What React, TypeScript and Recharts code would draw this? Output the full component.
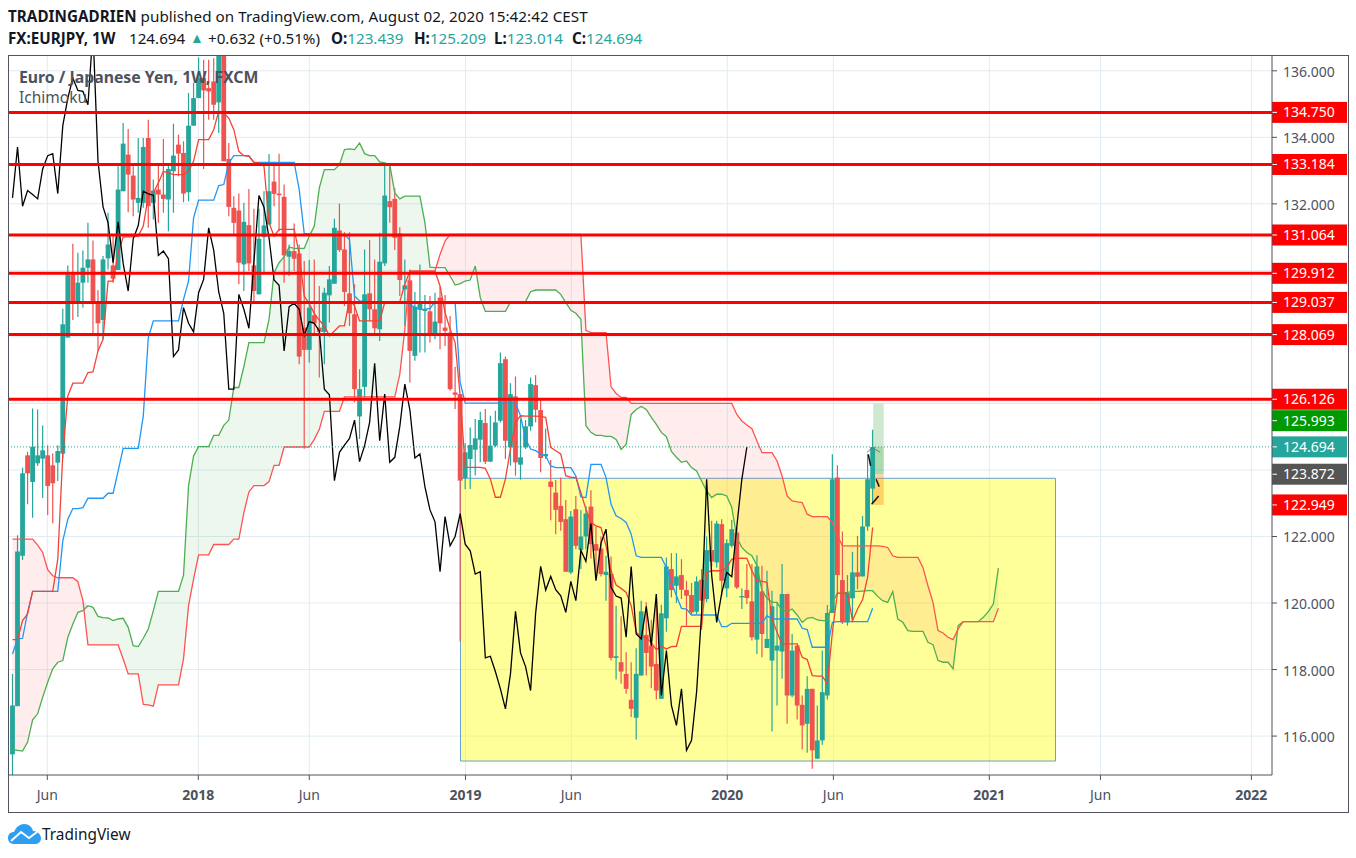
import React from 'react';
import { ComposedChart, Bar, Line, Area, XAxis, YAxis, CartesianGrid, ReferenceLine, ReferenceArea } from 'recharts';

const FONT = '"Noto Sans", "Open Sans", sans-serif';
const UP = '#26a69a';
const DOWN = '#ef5350';
const TEXT = '#4c525e';

// weekly candles, bar index = position in the arrays
const opens = [
  115.45,116.9,121.42,124.44,123.64,124.2,124.34,124.44,124.14,124.22,
  124.49,127.98,129.88,129.05,129.63,130.08,130.33,129.08,128.51,130.36,
  130.15,130.01,132.38,133.48,132.85,132.03,132.03,133.98,132.03,132.43,
  132.28,132.13,132.98,133.78,133.53,132.35,134.35,135.18,135.78,135.48,
  135.68,135.05,137.2,133.35,131.88,131.8,130.18,131.36,130.15,129.28,
  131.0,131.38,132.67,132.31,132.21,130.41,130.58,130.51,128.28,127.61,
  128.65,128.28,128.15,129.25,129.6,131.2,130.63,129.31,128.68,125.61,
  126.5,129.31,128.83,128.23,130.21,132.08,132.15,131.11,129.43,129.7,
  127.43,128.83,128.78,128.77,128.03,129.18,128.28,128.13,126.33,126.28,
  123.75,124.33,124.61,124.91,125.41,124.25,124.73,125.48,127.33,124.68,
  126.21,124.16,124.68,125.31,126.55,125.8,124.41,123.65,123.32,122.92,
  122.52,120.92,122.82,121.6,122.0,122.9,121.77,121.64,120.84,120.87,
  118.35,118.22,117.87,117.09,116.55,117.82,119.04,118.72,118.17,117.12,
  119.54,121.02,120.52,120.84,120.39,120.24,119.74,120.7,120.12,121.59,
  121.22,122.37,120.44,121.72,122.12,120.17,120.39,120.05,118.9,120.35,
  118.65,118.27,118.57,118.54,120.27,117.22,118.72,116.94,116.37,117.42,
  115.32,115.87,117.22,119.7,123.77,120.69,119.42,120.14,120.92,120.8,122.3,123.44,
];
const highs = [
  117.87,122.04,124.07,124.55,125.85,125.82,125.34,124.74,124.5,124.74,
  128.85,130.15,130.8,130.53,130.6,131.43,130.9,129.4,130.43,131.73,
  131.08,133.13,134.43,134.25,133.13,133.98,133.98,134.53,132.73,133.2,
  133.95,133.23,134.41,134.08,133.88,135.33,135.63,136.4,136.33,136.33,
  136.38,137.5,137.4,133.83,132.23,132.31,132.03,132.45,131.85,131.85,
  132.38,133.5,133.23,133.51,132.58,130.78,131.41,130.78,130.28,130.31,
  130.33,129.53,129.48,130.13,131.55,132.01,131.15,131.15,129.58,127.03,
  130.63,130.91,130.33,131.13,133.18,133.13,132.48,131.3,130.33,130.03,
  129.35,130.18,129.26,129.23,129.33,129.5,129.26,128.63,127.1,126.28,
  124.8,125.28,125.53,125.75,125.83,125.63,125.78,127.53,127.41,126.61,
  126.81,125.53,125.5,126.78,126.85,126.11,125.25,124.3,123.7,123.77,
  123.1,122.77,123.22,122.8,122.92,123.39,122.3,122.0,121.42,121.4,
  119.92,119.6,118.52,118.22,118.64,120.07,120.02,119.5,120.27,119.95,
  121.37,121.5,121.5,121.32,120.67,120.6,120.8,121.02,122.0,122.47,
  122.47,122.52,121.92,122.5,122.27,120.44,121.17,121.17,121.44,121.12,
  120.97,120.37,120.02,121.17,120.27,119.07,118.72,117.22,117.8,117.42,
  116.92,118.57,119.94,124.47,124.14,122.15,120.84,121.54,122.02,122.62,124.47,125.21,
];
const lows = [
  114.7,116.9,121.29,122.97,122.56,124.12,123.16,122.65,122.4,123.67,
  124.37,127.98,128.51,128.6,128.88,129.63,128.05,127.58,127.93,130.03,
  129.63,130.01,132.38,131.75,131.63,131.73,131.88,131.28,131.53,131.43,
  131.73,131.18,131.73,132.83,132.05,132.08,134.35,135.18,133.05,134.53,
  134.53,134.13,133.28,131.63,131.03,129.58,129.38,129.98,129.0,129.28,
  129.95,131.38,131.93,131.18,129.63,129.83,129.98,127.18,124.64,127.23,
  128.03,126.78,127.18,128.43,129.6,130.55,128.93,128.33,126.03,124.93,
  126.13,128.48,128.03,127.88,130.13,131.43,130.61,129.23,128.33,126.63,
  127.28,127.53,127.53,127.83,127.93,127.63,127.73,126.38,125.83,118.84,
  123.42,123.43,123.83,124.23,124.18,124.25,124.68,125.43,124.33,124.13,
  123.83,123.71,124.63,125.18,125.43,123.93,124.33,122.49,122.07,122.17,
  120.94,120.87,121.62,121.02,121.62,121.34,120.9,120.8,120.07,118.27,
  117.7,117.57,117.27,116.57,115.9,117.82,117.82,117.44,117.1,117.12,
  119.14,120.17,120.0,120.12,119.32,119.67,119.67,119.2,120.02,121.1,
  121.07,120.22,120.17,121.67,120.42,119.82,119.97,118.87,118.47,118.37,
  118.65,116.14,116.92,117.72,116.37,117.17,116.5,115.6,115.5,115.02,
  115.32,115.74,117.1,119.7,120.27,119.37,119.32,119.42,120.42,120.8,122.17,123.01,
];
const closes = [
  116.92,121.55,123.9,123.9,124.7,124.44,124.59,123.52,123.6,124.57,
  128.38,129.88,129.05,129.63,130.08,130.33,129.08,128.41,130.33,130.78,
  129.75,132.43,133.81,132.88,132.13,132.18,133.71,131.93,132.4,132.28,
  132.15,133.05,133.45,133.51,132.31,134.35,135.18,135.78,135.41,135.38,
  134.98,137.2,133.28,131.91,131.43,130.23,131.46,130.21,129.38,130.95,
  131.35,132.38,132.3,132.26,130.45,130.58,130.35,127.41,127.61,128.88,
  128.41,128.15,129.33,129.73,131.28,130.61,129.35,128.71,126.43,126.43,
  129.28,128.83,128.26,130.26,132.25,131.9,130.98,129.71,129.55,127.58,
  128.91,129.01,128.83,128.05,128.46,128.41,128.18,126.43,126.26,123.68,
  124.53,124.75,124.95,125.5,124.25,124.73,125.43,127.21,124.88,126.28,
  124.23,124.38,125.31,126.58,125.81,124.36,124.48,123.49,122.8,122.44,
  120.94,122.6,121.72,122.0,122.69,121.77,121.57,120.87,120.94,118.35,
  118.4,117.94,117.42,116.82,117.87,119.75,118.5,118.09,117.37,119.69,
  121.1,120.39,120.8,120.4,120.22,119.72,120.65,120.07,121.59,121.25,
  122.39,120.67,121.8,122.22,120.47,120.21,120.15,118.97,121.1,119.07,
  118.92,119.9,118.72,120.27,117.22,118.57,116.92,116.32,117.42,115.57,
  115.87,117.32,119.7,123.72,120.84,119.42,120.3,120.92,120.79,122.3,123.72,124.69,
];

// ichimoku lines
const conversion = [
  118.9,118.9,119.47,119.67,120.35,120.35,120.35,120.35,120.35,121.32,
  124.47,126.23,126.61,126.61,126.61,126.93,126.95,127.58,127.93,129.68,
  129.68,130.53,131.0,131.01,131.01,131.03,131.33,132.23,132.33,132.63,
  132.98,132.93,132.88,132.88,132.88,132.98,133.28,133.93,133.93,133.93,
  134.23,134.78,134.73,134.58,134.23,133.58,133.45,133.43,133.25,133.23,
  133.13,131.43,131.03,131.23,131.23,131.23,131.23,130.5,129.23,129.0,
  128.7,128.5,128.33,128.03,128.18,128.33,128.33,129.13,128.93,128.48,
  128.48,128.48,128.48,128.48,129.03,129.06,129.06,129.06,129.58,129.98,
  129.98,129.98,129.98,129.98,129.98,129.53,128.73,128.23,127.83,126.23,
  124.08,124.08,124.08,124.08,124.05,123.73,123.18,123.18,123.73,124.63,
  125.43,125.63,125.62,125.62,125.62,125.61,125.58,124.68,124.58,124.48,
  123.83,123.78,123.78,123.32,122.82,122.42,122.32,122.27,121.72,120.97,
  120.54,120.44,120.32,119.92,119.12,118.97,118.97,118.8,118.6,118.7,
  118.62,118.69,118.7,119.3,119.3,119.3,119.3,119.3,120.92,120.97,
  120.97,120.97,121.07,121.32,121.34,121.35,121.34,120.97,120.67,120.65,
  120.62,119.52,119.12,118.77,118.77,118.77,118.77,118.37,118.3,117.82,
  117.8,117.8,117.57,119.12,120.3,120.3,120.3,119.47,119.82,120.1,120.77,122.27,
];
const base = [
  118.47,118.92,118.94,119.72,120.35,120.35,120.35,120.35,120.35,120.35,
  121.87,122.52,122.84,122.84,122.87,123.15,123.15,123.15,123.15,123.3,
  123.3,123.97,124.65,124.65,124.65,124.65,125.62,127.98,128.48,128.48,
  128.48,128.48,128.48,128.48,129.13,129.68,131.58,132.11,132.11,132.11,
  132.11,132.55,132.58,133.23,133.45,133.45,133.45,133.45,133.25,133.25,
  133.25,133.25,133.25,133.25,133.25,133.25,133.25,132.43,131.11,131.1,
  131.08,131.08,131.08,131.08,131.08,131.08,131.08,130.93,129.23,129.08,
  129.06,129.06,129.06,129.06,129.06,129.06,129.06,129.06,129.06,128.98,
  128.88,128.83,128.83,128.86,129.05,129.06,129.06,129.06,129.03,126.63,
  126.01,126.01,126.01,126.01,126.01,126.01,126.01,126.01,126.01,126.01,
  126.01,125.63,124.93,124.63,124.58,124.48,124.43,124.12,124.07,124.07,
  124.07,124.07,123.82,123.19,123.17,124.17,124.17,124.17,123.77,122.97,
  122.62,122.54,122.42,122.07,121.42,121.37,121.37,121.37,121.37,121.37,
  121.07,120.62,120.22,119.84,119.82,119.64,119.64,119.64,119.64,119.64,
  119.64,119.29,119.29,119.39,119.39,119.39,119.39,119.39,119.39,119.39,
  119.62,119.52,119.52,119.52,119.52,119.52,119.52,119.24,119.2,118.67,
  118.67,118.67,118.67,119.42,119.44,119.44,119.44,119.44,119.44,119.44,119.44,119.84,
];
const leadA = [
  115.59,115.57,115.55,115.82,116.49,116.67,117.17,117.62,118.02,118.22,
  118.27,118.97,119.37,119.72,119.77,119.92,119.87,119.6,119.56,119.55,
  119.47,119.52,119.54,119.27,118.72,118.69,118.94,119.22,119.77,120.35,
  120.35,120.35,120.35,120.35,120.84,123.52,124.42,124.7,124.7,124.7,
  125.04,125.04,125.34,125.5,126.48,126.48,127.11,127.83,127.83,127.83,
  127.83,128.53,129.93,130.23,130.41,130.7,130.66,130.66,130.66,131.03,
  131.33,132.48,133.03,133.03,133.03,133.18,133.63,133.65,133.63,133.83,
  133.51,133.45,133.45,133.26,133.23,133.18,132.33,132.15,132.23,132.23,
  132.23,132.23,131.43,130.1,130.08,130.08,130.08,129.83,129.56,129.6,
  129.68,129.71,130.13,129.18,128.77,128.77,128.77,128.77,128.77,129.05,
  129.06,129.06,129.06,129.36,129.41,129.41,129.41,129.41,129.41,129.28,
  129.03,128.8,128.71,128.53,125.33,125.13,125.04,125.04,125.01,125.01,
  124.92,124.62,124.77,125.67,125.82,125.91,125.82,125.58,125.37,125.13,
  125.0,124.56,124.38,124.23,124.27,124.07,123.97,123.67,123.37,123.17,
  123.27,123.27,123.22,122.87,121.97,121.67,121.52,121.42,121.12,120.37,
  120.14,120.02,120.02,119.77,119.74,119.82,119.64,119.42,119.54,119.57,
  119.49,119.47,119.47,120.02,120.29,120.3,120.32,120.34,120.35,120.36,
  120.37,120.37,120.2,120.07,120.02,120.34,119.52,119.42,119.17,119.15,
  119.15,119.15,118.82,118.75,118.27,118.22,118.22,118.02,119.32,119.44,
  119.44,119.44,119.44,119.57,119.74,119.97,121.05,
];
const leadB = [
  121.92,121.92,121.92,121.92,121.92,121.74,121.52,121.0,120.82,120.76,
  120.76,120.76,120.76,120.64,120.07,118.74,118.74,118.74,118.74,118.74,
  118.74,118.74,118.32,117.87,117.87,117.87,116.95,116.94,116.9,117.54,
  117.54,117.54,117.54,117.54,118.32,119.92,120.72,121.45,121.45,121.45,
  121.76,121.76,121.76,121.76,121.92,121.92,122.72,123.34,123.53,123.53,
  123.53,123.65,124.14,124.14,124.69,124.69,124.69,124.69,124.69,124.69,
  124.92,125.22,125.76,125.76,125.76,125.76,126.2,126.2,126.2,126.2,
  126.2,126.2,126.2,126.2,126.2,126.2,126.2,126.88,128.23,129.98,
  129.98,129.98,129.98,129.98,129.98,130.48,130.88,131.08,131.08,131.08,
  131.08,131.08,131.08,131.08,131.08,131.08,131.08,131.08,131.08,131.08,
  131.08,131.08,131.08,131.08,131.08,131.08,131.08,131.08,131.08,131.08,
  131.08,131.08,131.08,131.08,128.2,128.13,128.13,128.13,128.13,126.5,
  126.3,126.18,126.18,126.0,126.0,126.0,126.0,126.0,126.0,126.0,
  126.0,126.0,126.0,126.0,126.0,126.0,126.0,126.0,126.0,126.0,
  126.0,126.0,126.0,126.0,125.67,125.47,125.35,125.24,124.87,124.52,
  124.52,124.52,124.27,123.82,123.22,123.07,123.04,123.02,122.67,122.6,
  122.6,122.6,122.6,122.42,122.02,121.72,121.72,121.72,121.72,121.72,
  121.72,121.72,121.72,121.7,121.67,121.42,121.37,121.37,121.37,121.37,
  121.37,121.07,120.52,120.02,119.17,119.1,118.97,118.9,119.22,119.44,
  119.44,119.44,119.44,119.44,119.44,119.44,119.84,
];
// lagging line is the close printed 25 bars earlier
const lagging = closes.slice(25);

// axes
const xTicks = [6.92, 36.94, 59, 90.06, 111.1, 142.1, 163.2, 194.2, 216.3, 246.3];
const xLabels = ['Jun', '2018', 'Jun', '2019', 'Jun', '2020', 'Jun', '2021', 'Jun', '2022'];
const gridPrices = [136, 134, 132, 130, 128, 126, 124, 122, 120, 118, 116];
const axisPrices = [136, 134, 132, 122, 120, 118, 116];

// drawn levels and price tags
const levels = [134.75, 133.184, 131.064, 129.912, 129.037, 128.069, 126.126];
const lastPrice = 124.694;
const targetPrice = 125.993;
const entryPrice = 123.872;
const stopPrice = 122.949;

const rows = leadA.map((a, i) => ({
  i,
  open: opens[i],
  high: highs[i],
  low: lows[i],
  close: closes[i],
  conversion: conversion[i],
  base: base[i],
  lagging: lagging[i],
  leadA: a,
  leadB: leadB[i],
}));

function Candle(props: any) {
  const { x, y, width, height, payload } = props;
  if (payload.open == null || !height) return null;
  const ppu = height / (payload.high - payload.low);
  const color = payload.close >= payload.open ? UP : DOWN;
  const top = y + (payload.high - Math.max(payload.open, payload.close)) * ppu;
  const bodyH = Math.max(Math.abs(payload.close - payload.open) * ppu, 1);
  const mid = x + width / 2;
  return (
    <g>
      <line x1={mid} x2={mid} y1={y} y2={y + height} stroke={color} strokeWidth={1.2} />
      <rect x={mid - 2.4} y={top} width={4.8} height={bodyH} fill={color} />
    </g>
  );
}

function priceTag(value: number, color: string, shift = 0) {
  return (props: any) => {
    const vb = props.viewBox;
    const right = vb.x + vb.width;
    const cy = vb.y + shift;
    return (
      <g>
        <rect x={right} y={cy - 10.5} width={75} height={21} fill={color} />
        <line x1={right} x2={right + 5} y1={cy} y2={cy} stroke="#fff" />
        <text x={right + 11} y={cy + 5} fill="#fff" fontSize={14} fontFamily={FONT}>
          {value.toFixed(3)}
        </text>
      </g>
    );
  };
}

function TimeTick(props: any) {
  const { x, y, payload } = props;
  const label = xLabels[xTicks.indexOf(payload.value)];
  const isYear = label !== 'Jun';
  return (
    <text x={x} y={y + 18} textAnchor="middle" fill={TEXT} fontSize={14} fontFamily={FONT} fontWeight={isYear ? 700 : 400}>
      {label}
    </text>
  );
}

function PriceTick(props: any) {
  const { x, y, payload } = props;
  return (
    <text x={x} y={y + 6} fill={TEXT} fontSize={14} fontFamily={FONT}>
      {payload.value.toFixed(3)}
    </text>
  );
}

const abs = (left: number, top: number): React.CSSProperties => ({
  position: 'absolute',
  left,
  top,
  whiteSpace: 'nowrap',
  fontFamily: FONT,
  lineHeight: '20px',
});

const HEAD = 15.2;

export default function App() {
  return (
    <div style={{ position: 'absolute', left: 0, top: 0, width: 1356, height: 858, background: '#fff', overflow: 'hidden' }}>
      <ComposedChart
        width={1356}
        height={858}
        data={rows}
        margin={{ top: 55.5, left: 8.5, right: 8.5, bottom: 47 }}
        style={{ position: 'absolute', left: 0, top: 0 }}
      >
        <CartesianGrid stroke="#e1ecf2" horizontalValues={gridPrices} verticalValues={xTicks} />
        <XAxis
          type="number"
          dataKey="i"
          scale="linear"
          domain={[-0.795, 250.4]}
          ticks={xTicks}
          interval={0}
          height={36}
          allowDataOverflow
          stroke="#50535e"
          tick={<TimeTick />}
          tickSize={5}
        />
        <YAxis
          orientation="right"
          type="number"
          domain={[114.83, 136.46]}
          ticks={axisPrices}
          interval={0}
          width={75.5}
          allowDataOverflow
          stroke="#50535e"
          tick={<PriceTick />}
          tickSize={5}
          tickMargin={6}
        />
        <ReferenceArea x1={89.07} x2={207.36} y1={115.25} y2={123.75} fill="#ffff00" fillOpacity={0.4} stroke="#6a9fd0" strokeWidth={1} />
        <Area dataKey={(d) => [d.leadB, Math.max(d.leadA, d.leadB)]} stroke="none" fill="#4caf50" fillOpacity={0.1} isAnimationActive={false} dot={false} activeDot={false} />
        <Area dataKey={(d) => [d.leadA, Math.max(d.leadA, d.leadB)]} stroke="none" fill="#ff5252" fillOpacity={0.1} isAnimationActive={false} dot={false} activeDot={false} />
        <Line dataKey="leadA" stroke="#4caf50" strokeWidth={1.3} dot={false} activeDot={false} isAnimationActive={false} />
        <Line dataKey="leadB" stroke="#ff5252" strokeWidth={1.3} dot={false} activeDot={false} isAnimationActive={false} />
        <ReferenceArea x1={171.1} x2={173.2} y1={entryPrice} y2={targetPrice} fill="#4caf50" fillOpacity={0.27} />
        <ReferenceArea x1={171.1} x2={173.2} y1={entryPrice} y2={lastPrice} fill="#4caf50" fillOpacity={0.27} />
        <ReferenceArea x1={171.1} x2={173.2} y1={stopPrice} y2={entryPrice} fill="#ff8000" fillOpacity={0.35} />
        <ReferenceLine segment={[{ x: 169.9, y: 124.53 }, { x: 170.9, y: 124.67 }]} stroke="#777" />
        <ReferenceLine segment={[{ x: 170.9, y: 124.67 }, { x: 172.5, y: 124.53 }]} stroke="#777" />
        <ReferenceLine segment={[{ x: 170.14, y: 124.47 }, { x: 170.6, y: 124.12 }]} stroke="#111" strokeWidth={1.5} />
        <ReferenceLine segment={[{ x: 171.7, y: 123.72 }, { x: 172.3, y: 123.5 }]} stroke="#111" strokeWidth={1.5} />
        <ReferenceLine segment={[{ x: 170.8, y: 122.97 }, { x: 172.2, y: 123.22 }]} stroke="#111" strokeWidth={1.5} />
        <Bar dataKey={(d) => (d.high == null ? null : [d.low, d.high])} barSize={5} shape={Candle} isAnimationActive={false} />
        <Line dataKey="base" stroke="#2196f3" strokeWidth={1.3} dot={false} activeDot={false} isAnimationActive={false} />
        <Line dataKey="conversion" stroke="#f44336" strokeWidth={1.3} dot={false} activeDot={false} isAnimationActive={false} />
        <Line dataKey="lagging" stroke="#000" strokeWidth={1.3} dot={false} activeDot={false} isAnimationActive={false} />
        <ReferenceLine y={lastPrice} stroke={UP} strokeWidth={1} strokeDasharray="1 2" label={priceTag(lastPrice, UP)} />
        <ReferenceLine y={targetPrice} stroke="none" label={priceTag(targetPrice, '#009900', 17)} />
        <ReferenceLine y={entryPrice} stroke="none" label={priceTag(entryPrice, '#555555')} />
        <ReferenceLine y={stopPrice} stroke="none" label={priceTag(stopPrice, '#ff0000')} />
        {levels.map((v) => (
          <ReferenceLine key={v} y={v} stroke="#ff0000" strokeWidth={3} label={priceTag(v, '#ff0000')} />
        ))}
      </ComposedChart>

      <div style={{ position: 'absolute', left: 8, top: 55, width: 1339, height: 756, border: '1px solid #50535e', boxSizing: 'content-box', pointerEvents: 'none' }} />

      <div style={{ ...abs(8, 6), fontSize: HEAD, letterSpacing: 0.05, color: '#131722' }}>
        <b>TRADINGADRIEN</b> published on TradingView.com, August 02, 2020 15:42:42 CEST
      </div>
      <b style={{ ...abs(8, 28), fontSize: HEAD, color: '#131722' }}>FX:EURJPY, 1W</b>
      <span style={{ ...abs(129, 28), fontSize: HEAD, color: '#131722' }}>124.694</span>
      <span style={{ ...abs(190, 28), fontSize: 14, color: UP }}>▲</span>
      <span style={{ ...abs(208, 28), fontSize: HEAD, color: '#131722' }}>+0.632 (+0.51%)</span>
      <span style={{ ...abs(331, 28), fontSize: HEAD, color: UP }}><b style={{ color: '#131722' }}>O:</b>123.439</span>
      <span style={{ ...abs(414, 28), fontSize: HEAD, color: UP }}><b style={{ color: '#131722' }}>H:</b>125.209</span>
      <span style={{ ...abs(494, 28), fontSize: HEAD, color: UP }}><b style={{ color: '#131722' }}>L:</b>123.014</span>
      <span style={{ ...abs(572, 28), fontSize: HEAD, color: UP }}><b style={{ color: '#131722' }}>C:</b>124.694</span>
      <div style={{ ...abs(19, 67), fontSize: 15.8, fontWeight: 700, color: TEXT }}>Euro / Japanese Yen, 1W, FXCM</div>
      <div style={{ ...abs(19, 87), fontSize: 15.5, color: TEXT }}>Ichimoku</div>

      <svg style={{ position: 'absolute', left: 8, top: 824 }} width={33} height={21} viewBox="0 0 33 21">
        <path d="M6 20 C1 20 0 16 0 14 C0 10 3 8 6 8 C8 3 12 0 16 0 C21 0 24 3 25 7 C30 7 33 11 33 14 C33 18 30 20 27 20 Z" fill="#2e9ef3" />
        <path d="M3 17 L13 8 L21 14 L29 8" fill="none" stroke="#fff" strokeWidth={2} />
      </svg>
      <div style={{ ...abs(42, 825), fontSize: 15.4, color: '#131722' }}>TradingView</div>
    </div>
  );
}
